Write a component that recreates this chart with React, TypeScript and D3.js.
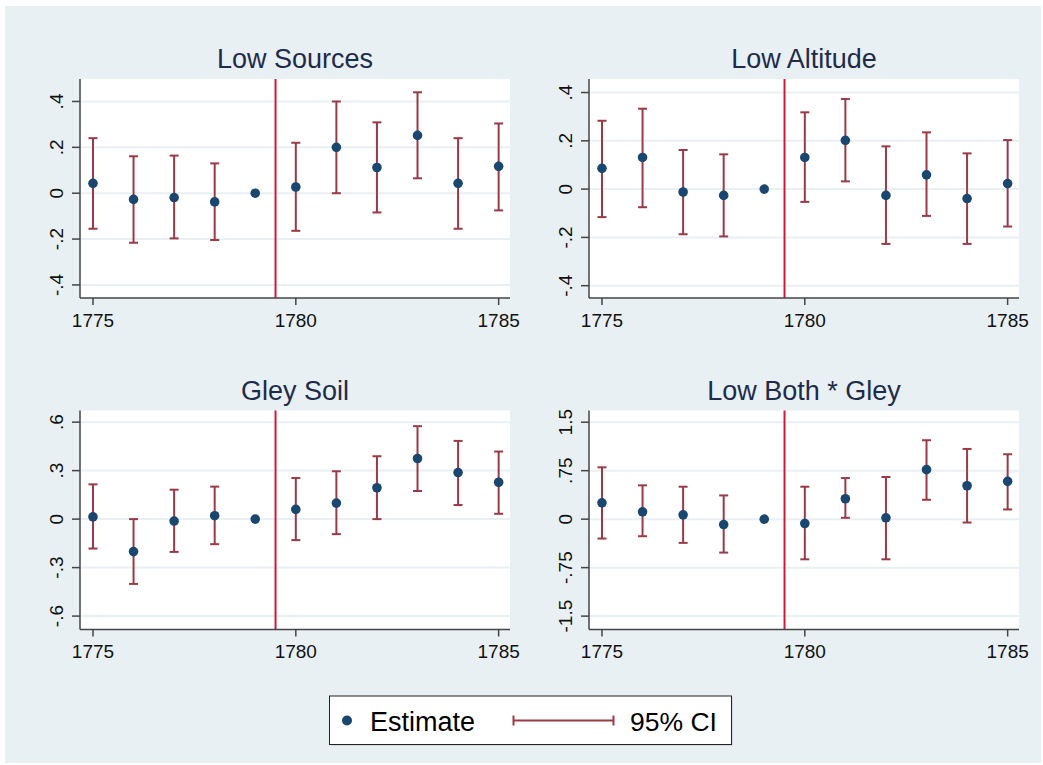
import * as d3 from 'd3';

// years on the x axis
const years = [1775, 1776, 1777, 1778, 1779, 1780, 1781, 1782, 1783, 1784, 1785];
const xTicks = [1775, 1780, 1785];
const treatYear = 1779.5;

// Low Sources
const lowSourcesEst = [0.043, -0.027, -0.019, -0.038, 0, 0.027, 0.2, 0.112, 0.252, 0.043, 0.117];
const lowSourcesLo = [-0.155, -0.216, -0.197, -0.204, null, -0.164, 0.0, -0.084, 0.065, -0.155, -0.075];
const lowSourcesHi = [0.24, 0.161, 0.164, 0.13, null, 0.22, 0.4, 0.309, 0.44, 0.24, 0.304];

// Low Altitude
const lowAltEst = [0.086, 0.131, -0.012, -0.026, 0, 0.131, 0.202, -0.026, 0.059, -0.039, 0.023];
const lowAltLo = [-0.116, -0.075, -0.187, -0.196, null, -0.053, 0.032, -0.227, -0.111, -0.227, -0.155];
const lowAltHi = [0.283, 0.333, 0.162, 0.144, null, 0.318, 0.373, 0.177, 0.235, 0.148, 0.203];

// Gley Soil
const gleyEst = [0.014, -0.201, -0.012, 0.021, 0, 0.06, 0.099, 0.194, 0.375, 0.288, 0.228];
const gleyLo = [-0.182, -0.401, -0.203, -0.155, null, -0.13, -0.093, 0.0, 0.174, 0.087, 0.033];
const gleyHi = [0.215, 0.0, 0.182, 0.201, null, 0.254, 0.296, 0.389, 0.575, 0.484, 0.418];

// Low Both * Gley
const bothEst = [0.253, 0.114, 0.067, -0.083, 0, -0.067, 0.316, 0.021, 0.766, 0.517, 0.585];
const bothLo = [-0.3, -0.264, -0.367, -0.517, null, -0.621, 0.021, -0.621, 0.3, -0.052, 0.15];
const bothHi = [0.802, 0.523, 0.502, 0.367, null, 0.502, 0.636, 0.652, 1.221, 1.086, 1.004];

// y axis ticks
const ticks4 = [-0.4, -0.2, 0, 0.2, 0.4];
const labels4 = ['-.4', '-.2', '0', '.2', '.4'];
const ticks6 = [-0.6, -0.3, 0, 0.3, 0.6];
const labels6 = ['-.6', '-.3', '0', '.3', '.6'];
const ticks15 = [-1.5, -0.75, 0, 0.75, 1.5];
const labels15 = ['-1.5', '-.75', '0', '.75', '1.5'];

const panels = [
  { title: 'Low Sources', est: lowSourcesEst, lo: lowSourcesLo, hi: lowSourcesHi, ticks: ticks4, labels: labels4, ydom: [-0.457, 0.498], left: 80, top: 79 },
  { title: 'Low Altitude', est: lowAltEst, lo: lowAltLo, hi: lowAltHi, ticks: ticks4, labels: labels4, ydom: [-0.451, 0.456], left: 589, top: 79 },
  { title: 'Gley Soil', est: gleyEst, lo: gleyLo, hi: gleyHi, ticks: ticks6, labels: labels6, ydom: [-0.683, 0.672], left: 80, top: 410.5 },
  { title: 'Low Both * Gley', est: bothEst, lo: bothLo, hi: bothHi, ticks: ticks15, labels: labels15, ydom: [-1.707, 1.681], left: 589, top: 410.5 },
];

const W = 430;
const H = 219;
const font = '"Liberation Sans", Arial, sans-serif';
const bg = '#e9f0f3';
const ciColor = '#9a3a46';
const dotColor = '#1a476f';
const lineColor = '#cf1a3c';
const axisColor = '#444';

function Panel({ p }: { p: any }) {
  const x = d3.scaleLinear().domain([1774.68, 1785.28]).range([0, W]);
  const y = d3.scaleLinear().domain(p.ydom).range([H, 0]);
  return (
    <g transform={`translate(${p.left},${p.top})`}>
      <rect x={0} y={0} width={W} height={H} fill="#fff" />
      {p.ticks.map((t: number) => (
        <line key={'g' + t} x1={0} x2={W} y1={y(t)} y2={y(t)} stroke={bg} strokeWidth={2} />
      ))}
      <line x1={x(treatYear)} x2={x(treatYear)} y1={0} y2={H} stroke={lineColor} strokeWidth={2} />
      {years.map((yr, i) =>
        p.lo[i] == null ? null : (
          <g key={'ci' + yr} stroke={ciColor} strokeWidth={2}>
            <line x1={x(yr)} x2={x(yr)} y1={y(p.lo[i])} y2={y(p.hi[i])} />
            <line x1={x(yr) - 4.5} x2={x(yr) + 4.5} y1={y(p.lo[i])} y2={y(p.lo[i])} />
            <line x1={x(yr) - 4.5} x2={x(yr) + 4.5} y1={y(p.hi[i])} y2={y(p.hi[i])} />
          </g>
        )
      )}
      {years.map((yr, i) => (
        <circle key={'d' + yr} cx={x(yr)} cy={y(p.est[i])} r={4.8} fill={dotColor} />
      ))}
      <line x1={0} x2={0} y1={0} y2={H} stroke={axisColor} strokeWidth={1.5} />
      <line x1={0} x2={W} y1={H} y2={H} stroke={axisColor} strokeWidth={1.5} />
      {p.ticks.map((t: number, i: number) => (
        <g key={'yt' + t}>
          <line x1={-8} x2={0} y1={y(t)} y2={y(t)} stroke={axisColor} strokeWidth={1.5} />
          <text
            transform={`translate(-17.5,${y(t)}) rotate(-90)`}
            textAnchor="middle"
            fontSize={19}
            fontFamily={font}
            fill="#111"
          >
            {p.labels[i]}
          </text>
        </g>
      ))}
      {xTicks.map((t) => (
        <g key={'xt' + t}>
          <line x1={x(t)} x2={x(t)} y1={H} y2={H + 7} stroke={axisColor} strokeWidth={1.5} />
          <text x={x(t)} y={H + 28.5} textAnchor="middle" fontSize={19} fontFamily={font} fill="#111">
            {t}
          </text>
        </g>
      ))}
      <text x={W / 2} y={-11} textAnchor="middle" fontSize={27} fontFamily={font} fill="#1e2b4a">
        {p.title}
      </text>
    </g>
  );
}

export default function App() {
  return (
    <svg
      width={1043}
      height={765}
      style={{ position: 'absolute', left: 0, top: 0, display: 'block' }}
    >
      <rect x={0} y={0} width={1043} height={765} fill="#fff" />
      <rect x={5} y={6} width={1036} height={757} fill={bg} />
      {panels.map((p) => (
        <Panel key={p.title} p={p} />
      ))}
      <g>
        <rect x={331} y={697.5} width={402} height={48.5} fill="#d4dade" />
        <rect x={329.5} y={696} width={402} height={48.5} fill="#fff" stroke="#222" strokeWidth={1} />
        <circle cx={347} cy={720.5} r={5} fill={dotColor} />
        <text x={370} y={730.5} fontSize={27} fontFamily={font} fill="#000">Estimate</text>
        <g stroke={ciColor} strokeWidth={2}>
          <line x1={513.5} x2={613.5} y1={720.5} y2={720.5} />
          <line x1={513.5} x2={513.5} y1={715.5} y2={725.5} />
          <line x1={613.5} x2={613.5} y1={715.5} y2={725.5} />
        </g>
        <text x={630} y={730.5} fontSize={26.5} fontFamily={font} fill="#000">95% CI</text>
      </g>
    </svg>
  );
}
